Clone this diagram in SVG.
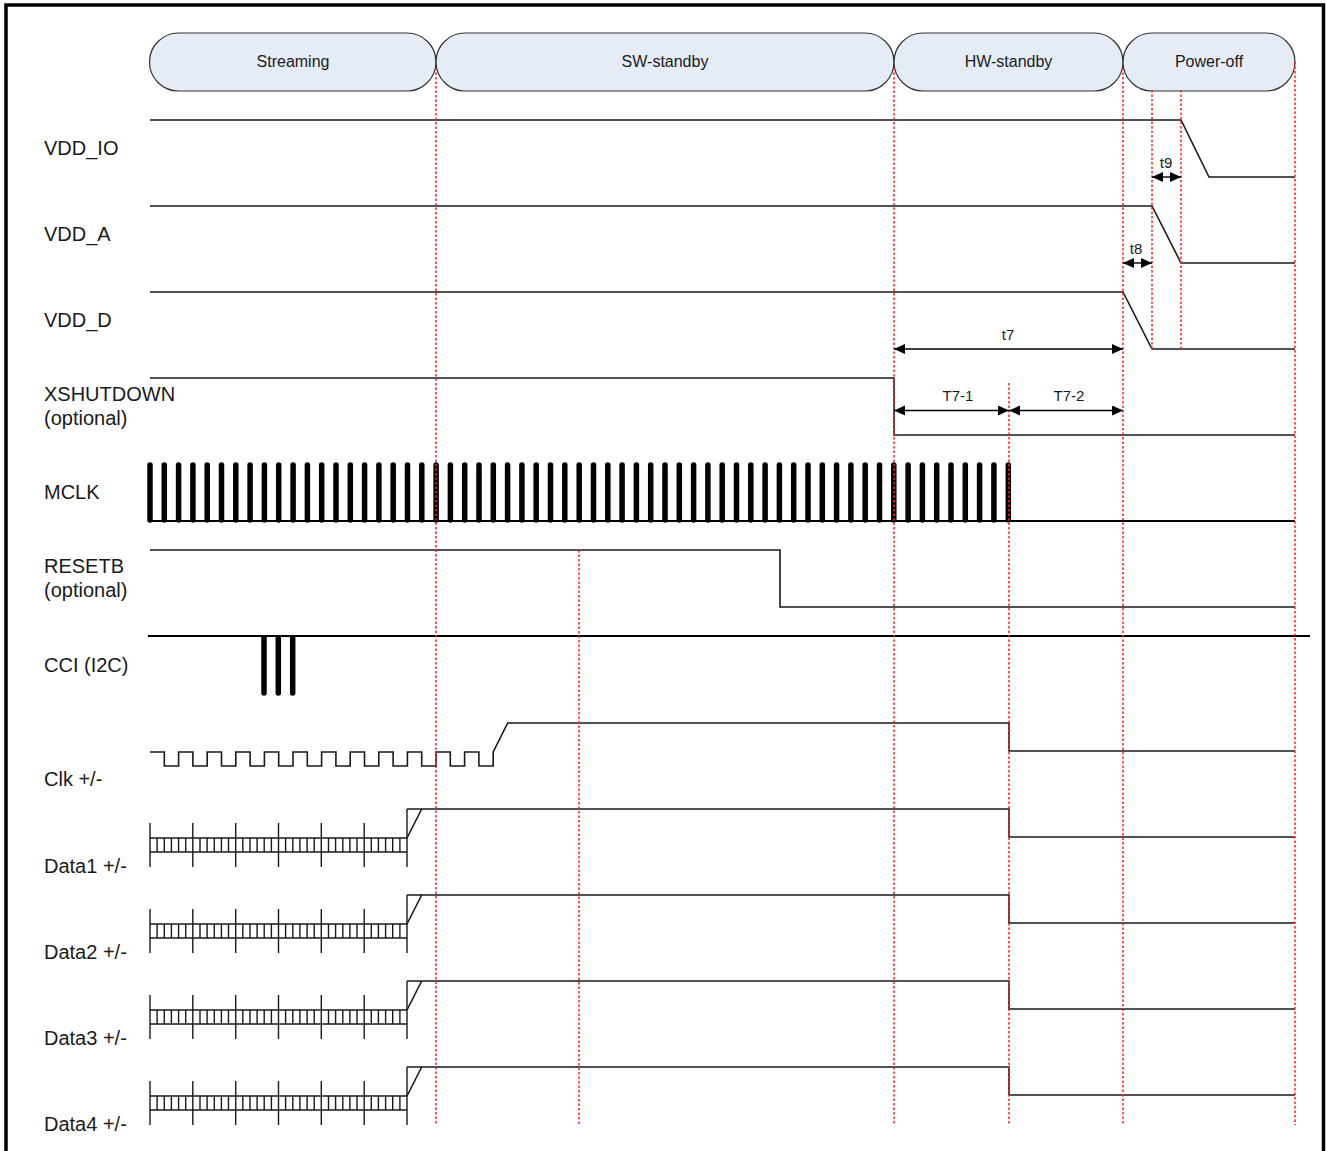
<svg xmlns="http://www.w3.org/2000/svg" xmlns:xlink="http://www.w3.org/1999/xlink" width="1326" height="1151" viewBox="0 0 1326 1151">
<style>
  .frame{fill:none;stroke:#000;stroke-width:3.5}
  .pill{fill:#E5ECF6;stroke:#333;stroke-width:1.2}
  .ptxt{font-family:"Liberation Sans",Arial,sans-serif;font-size:16px;fill:#1a1a1a;text-anchor:middle}
  .lbl{font-family:"Liberation Sans",Arial,sans-serif;font-size:20px;fill:#1a1a1a}
  .tl{font-family:"Liberation Sans",Arial,sans-serif;font-size:15px;fill:#1a1a1a;text-anchor:middle}
  .sig{fill:none;stroke:#1a1a1a;stroke-width:1.6}
  .thin{fill:none;stroke:#1a1a1a;stroke-width:1.4}
  .bar{fill:none;stroke:#000;stroke-width:5.5;stroke-linecap:round}
  .base{fill:none;stroke:#000;stroke-width:2.2}
  .red{fill:none;stroke:#ff2020;stroke-width:1.5;stroke-dasharray:2.5,2}
  .arr{fill:none;stroke:#000;stroke-width:1.4;marker-start:url(#ah);marker-end:url(#ah)}
</style>
<defs>
  <marker id="ah" markerUnits="userSpaceOnUse" markerWidth="12" markerHeight="11" refX="11" refY="5" orient="auto-start-reverse">
    <path d="M0,0 L11,5 L0,10 z" fill="#000"/>
  </marker>
  <g id="eye">
    <path class="thin" d="M150,838H407M150,852H407"/>
    <path class="thin" d="M150,823V867M192.8,823V867M235.7,823V867M278.5,823V867M321.3,823V867M364.2,823V867M407,809V867"/>
    <path class="thin" d="M157.1,838V852M164.3,838V852M171.4,838V852M178.6,838V852M185.7,838V852M200,838V852M207.1,838V852M214.3,838V852M221.4,838V852M228.5,838V852M242.8,838V852M250,838V852M257.1,838V852M264.2,838V852M271.4,838V852M285.6,838V852M292.8,838V852M299.9,838V852M307.1,838V852M314.2,838V852M328.5,838V852M335.6,838V852M342.8,838V852M349.9,838V852M357,838V852M371.3,838V852M378.4,838V852M385.6,838V852M392.7,838V852M399.9,838V852"/>
    <path class="sig" d="M407,838L421.7,809M407,809H1009V837H1295"/>
  </g>
</defs>
<rect width="1326" height="1151" fill="#fff"/>
<rect class="frame" x="6" y="5" width="1317.5" height="1200"/>

<g id="phases">
  <g id="phase-streaming"><rect class="pill" x="149.5" y="33" width="286.5" height="58" rx="29" ry="29"/><text class="ptxt" x="293" y="66.5">Streaming</text></g>
  <g id="phase-sw-standby"><rect class="pill" x="436" y="33" width="458" height="58" rx="29" ry="29"/><text class="ptxt" x="665" y="66.5">SW-standby</text></g>
  <g id="phase-hw-standby"><rect class="pill" x="894" y="33" width="229" height="58" rx="29" ry="29"/><text class="ptxt" x="1008.5" y="66.5">HW-standby</text></g>
  <g id="phase-power-off"><rect class="pill" x="1123" y="33" width="172" height="58" rx="29" ry="29"/><text class="ptxt" x="1209" y="66.5">Power-off</text></g>
</g>

<g id="labels">
  <text class="lbl" x="44" y="155">VDD_IO</text>
  <text class="lbl" x="44" y="241">VDD_A</text>
  <text class="lbl" x="44" y="327">VDD_D</text>
  <text class="lbl" x="44" y="401">XSHUTDOWN</text>
  <text class="lbl" x="44" y="425">(optional)</text>
  <text class="lbl" x="44" y="499">MCLK</text>
  <text class="lbl" x="44" y="573">RESETB</text>
  <text class="lbl" x="44" y="597">(optional)</text>
  <text class="lbl" x="44" y="672">CCI (I2C)</text>
  <text class="lbl" x="44" y="786">Clk +/-</text>
  <text class="lbl" x="44" y="873">Data1 +/-</text>
  <text class="lbl" x="44" y="959">Data2 +/-</text>
  <text class="lbl" x="44" y="1045">Data3 +/-</text>
  <text class="lbl" x="44" y="1131">Data4 +/-</text>
</g>

<g id="signals">
  <g id="vdd-io"><path class="sig" d="M150,120H1181L1209,177H1295"/></g>
  <g id="vdd-a"><path class="sig" d="M150,206H1152L1181,263H1295"/></g>
  <g id="vdd-d"><path class="sig" d="M150,292H1123L1152,349H1295"/></g>
  <g id="xshutdown"><path class="sig" d="M150,378H894V435H1295"/></g>
  <g id="mclk">
    <path class="base" d="M148,521H1295"/>
    <path class="bar" d="M150,465V520M164.3,465V520M178.6,465V520M192.9,465V520M207.2,465V520M221.5,465V520M235.8,465V520M250.1,465V520M264.4,465V520M278.7,465V520M293.1,465V520M307.4,465V520M321.7,465V520M336,465V520M350.3,465V520M364.6,465V520M378.9,465V520M393.2,465V520M407.5,465V520M421.8,465V520M436.1,465V520M450.4,465V520M464.7,465V520M479,465V520M493.3,465V520M507.6,465V520M521.9,465V520M536.2,465V520M550.5,465V520M564.8,465V520M579.2,465V520M593.5,465V520M607.8,465V520M622.1,465V520M636.4,465V520M650.7,465V520M665,465V520M679.3,465V520M693.6,465V520M707.9,465V520M722.2,465V520M736.5,465V520M750.8,465V520M765.1,465V520M779.4,465V520M793.7,465V520M808,465V520M822.3,465V520M836.6,465V520M850.9,465V520M865.2,465V520M879.5,465V520M893.8,465V520M908.1,465V520M922.4,465V520M936.7,465V520M951,465V520M965.3,465V520M979.6,465V520M993.9,465V520M1008.3,465V520"/>
  </g>
  <g id="resetb"><path class="sig" d="M150,550H780V607H1295"/></g>
  <g id="cci">
    <path class="base" d="M148,636H1310"/>
    <path class="bar" d="M264,638V693M278.3,638V693M292.7,638V693"/>
  </g>
  <g id="clk"><path class="sig" d="M150,752H164.3V766H178.6V752H192.9V766H207.2V752H221.5V766H235.8V752H250.1V766H264.4V752H278.7V766H293V752H307.3V766H321.6V752H335.9V766H350.2V752H364.5V766H378.8V752H393.1V766H407.4V752H421.7V766H436V752H450.3V766H464.6V752H478.9V766H493.2V752L507.7,723H1009V751H1295"/></g>
  <g id="data1"><use xlink:href="#eye"/></g>
  <g id="data2"><use xlink:href="#eye" y="86"/></g>
  <g id="data3"><use xlink:href="#eye" y="172"/></g>
  <g id="data4"><use xlink:href="#eye" y="258"/></g>
</g>

<g id="connectors">
  <path class="red" d="M436,68V1125M894,68V1125M1123,68V1125M1295,62V1125M579,550V1125M1009,383V1125M1152,90V350M1181,90V350"/>
  <path class="arr" d="M1152,177H1181"/>
  <path class="arr" d="M1123,263H1152"/>
  <path class="arr" d="M894,349H1123"/>
  <path class="arr" d="M894,410.5H1009"/>
  <path class="arr" d="M1009,410.5H1123"/>
</g>

<g id="timing-labels">
  <text class="tl" x="1166" y="168">t9</text>
  <text class="tl" x="1136" y="254">t8</text>
  <text class="tl" x="1008" y="340">t7</text>
  <text class="tl" x="958" y="401">T7-1</text>
  <text class="tl" x="1069" y="401">T7-2</text>
</g>
</svg>
